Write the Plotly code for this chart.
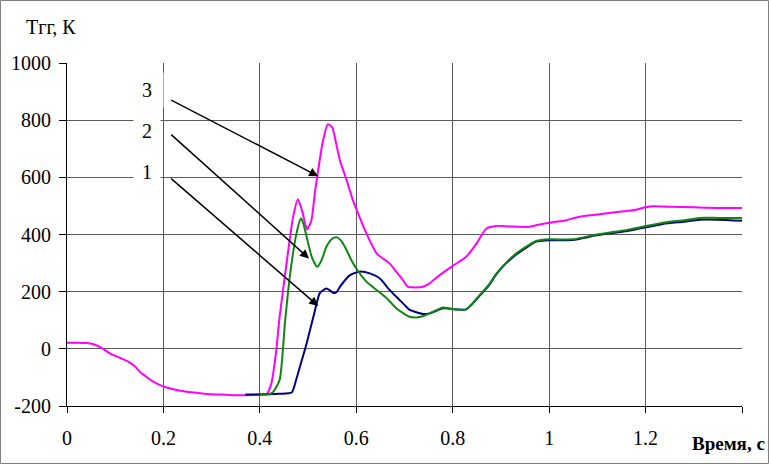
import plotly.graph_objects as go

# ---- data ----
x3 = [0, 0.02, 0.04, 0.055, 0.07, 0.089, 0.105, 0.124, 0.14, 0.151, 0.165, 0.179, 0.193, 0.207, 0.225,
      0.248, 0.27, 0.29, 0.32, 0.345, 0.37, 0.40, 0.414, 0.424, 0.433, 0.441, 0.45, 0.459, 0.469,
      0.479, 0.488, 0.498, 0.507, 0.514, 0.521, 0.53, 0.541, 0.55, 0.558, 0.566, 0.58, 0.593,
      0.607, 0.621, 0.632, 0.642, 0.656, 0.669, 0.683, 0.697, 0.707, 0.72, 0.738, 0.752, 0.773,
      0.80, 0.828, 0.85, 0.87, 0.891, 0.92, 0.96, 0.98, 1.0, 1.03, 1.063, 1.1, 1.132, 1.174,
      1.2, 1.215, 1.25, 1.3, 1.35, 1.4]
y3 = [21, 21, 20, 16, 5, -16, -28, -42, -60, -80, -98, -115, -127, -135, -143,
      -150, -154, -158, -160, -162, -162, -160, -158, -120, -20, 112, 230, 345, 462,
      523, 480, 418, 450, 544, 625, 720, 786, 775, 720, 660, 590, 520,
      460, 404, 365, 334, 315, 299, 270, 240, 217, 215, 217, 229, 258,
      290, 322, 370, 421, 430, 428, 427, 435, 441, 448, 462, 470, 477, 485,
      495, 499, 497, 495, 493, 493]

x2 = [0.40, 0.42, 0.428, 0.441, 0.452, 0.462, 0.476, 0.485, 0.49, 0.497, 0.508, 0.519, 0.528,
      0.538, 0.55, 0.56, 0.57, 0.58, 0.59, 0.6, 0.621, 0.642, 0.663, 0.683, 0.697, 0.711,
      0.725, 0.738, 0.76, 0.78, 0.795, 0.808, 0.828, 0.842, 0.856, 0.875, 0.891, 0.91, 0.932,
      0.955, 0.973, 1.001, 1.049, 1.098, 1.167, 1.236, 1.28, 1.312, 1.35, 1.4]
y2 = [-160, -158, -150, -109, 90, 252, 404, 456, 440, 392, 320, 287, 310,
      357, 385, 390, 375, 345, 310, 281, 235, 206, 177, 142, 125, 112,
      110, 114, 130, 145, 140, 138, 138, 160, 188, 225, 264, 300, 334,
      360, 377, 383, 383, 400, 418, 441, 450, 458, 458, 458]

x1 = [0.37, 0.40, 0.44, 0.466, 0.475, 0.483, 0.497, 0.511, 0.524, 0.531, 0.538, 0.545, 0.552,
      0.559, 0.566, 0.587, 0.607, 0.628, 0.649, 0.669, 0.683, 0.697, 0.711, 0.725, 0.738,
      0.752, 0.766, 0.78, 0.795, 0.81, 0.828, 0.842, 0.856, 0.875, 0.891, 0.91, 0.932, 0.955,
      0.973, 1.001, 1.049, 1.098, 1.167, 1.236, 1.28, 1.312, 1.35, 1.4]
y1 = [-160, -160, -157, -153, -110, -63, 19, 112, 194, 205, 211, 205, 196,
      198, 217, 258, 270, 264, 246, 206, 182, 159, 136, 128, 122,
      124, 133, 142, 140, 138, 138, 160, 186, 222, 262, 298, 330, 357,
      375, 380, 381, 397, 414, 437, 445, 452, 452, 448]

x_ticks = [0, 0.2, 0.4, 0.6, 0.8, 1.0, 1.2, 1.4]
x_ticktext = ["0", "0.2", "0.4", "0.6", "0.8", "1", "1.2", ""]
y_ticks = [-200, 0, 200, 400, 600, 800, 1000]
y_ticktext = ["-200", "0", "200", "400", "600", "800", "1000"]

y_title = "Тгг, К"
x_title = "Время, с"
curve_labels = ["1", "2", "3"]

FONT = "Liberation Serif"

fig = go.Figure()
fig.add_trace(go.Scatter(x=x3, y=y3, mode="lines", line=dict(color="#FF00FF", width=2, shape="spline", smoothing=0.6)))
fig.add_trace(go.Scatter(x=x1, y=y1, mode="lines", line=dict(color="#000080", width=2, shape="spline", smoothing=0.6)))
fig.add_trace(go.Scatter(x=x2, y=y2, mode="lines", line=dict(color="#108510", width=2, shape="spline", smoothing=0.6)))

L, R, T, B = 67, 27, 63, 58
W, H = 769, 464
pw, ph = W - L - R, H - T - B

fig.update_layout(
    width=W, height=H,
    margin=dict(l=L, r=R, t=T, b=B),
    paper_bgcolor="white", plot_bgcolor="white",
    showlegend=False,
    font=dict(family=FONT, size=20, color="black"),
)
fig.update_xaxes(
    range=[0, 1.4], tickvals=x_ticks, ticktext=x_ticktext,
    showgrid=True, gridcolor="#5a5a5a", gridwidth=1,
    showline=True, linecolor="black", linewidth=1,
    ticks="outside", ticklen=6, tickcolor="black",
    zeroline=False, ticklabelstandoff=8,
    tickfont=dict(family=FONT, size=20),
)
fig.update_yaxes(
    range=[-200, 1000], tickvals=y_ticks, ticktext=y_ticktext,
    showgrid=True, gridcolor="#5a5a5a", gridwidth=1,
    showline=True, linecolor="black", linewidth=1,
    ticks="outside", ticklen=7, tickcolor="black",
    zeroline=False, ticklabelstandoff=4,
    tickfont=dict(family=FONT, size=20),
)

# outer frame
fig.add_shape(type="rect", xref="paper", yref="paper", layer="above",
              x0=(0.5 - L) / pw, x1=(W - 0.5 - L) / pw,
              y0=(-(B - 0.5)) / ph, y1=(H - B - 0.5) / ph,
              line=dict(color="#808080", width=1))

# axis titles
fig.add_annotation(text=y_title, xref="paper", yref="paper",
                   x=(51 - L) / pw, y=(H - B - 27) / ph, showarrow=False,
                   font=dict(family=FONT, size=20), xanchor="center", yanchor="middle")
fig.add_annotation(text="<b>" + x_title + "</b>", xref="paper", yref="paper",
                   x=(767 - L) / pw, y=-(443 - (H - B)) / ph, showarrow=False,
                   font=dict(family=FONT, size=19), xanchor="right", yanchor="middle")

# curve labels with arrows
label_pos = {"3": (0.166, 904), "2": (0.166, 761), "1": (0.166, 618)}
label_box = {"3": (32, 34), "2": (26, 30), "1": (26, 30)}
arrows = {"3": ((0.213, 873), (0.521, 604)),
          "2": ((0.213, 754), (0.502, 316)),
          "1": ((0.213, 600), (0.521, 150))}
for lab in curve_labels:
    (tx, ty), (hx, hy) = arrows[lab]
    fig.add_annotation(x=hx, y=hy, ax=tx, ay=ty, xref="x", yref="y", axref="x", ayref="y",
                       text="", showarrow=True, arrowhead=2, arrowsize=1.2, arrowwidth=1.5,
                       arrowcolor="black")
    lx, ly = label_pos[lab]
    bw, bh = label_box[lab]
    fig.add_annotation(x=lx, y=ly, xref="x", yref="y", text=lab, showarrow=False,
                       bgcolor="white", borderpad=0, width=bw, height=bh,
                       font=dict(family=FONT, size=20))

fig.write_html("out.html", config={"displayModeBar": False},
               post_script="document.body.style.margin='0';document.body.style.padding='0';"
                           "document.documentElement.style.overflow='hidden';")
